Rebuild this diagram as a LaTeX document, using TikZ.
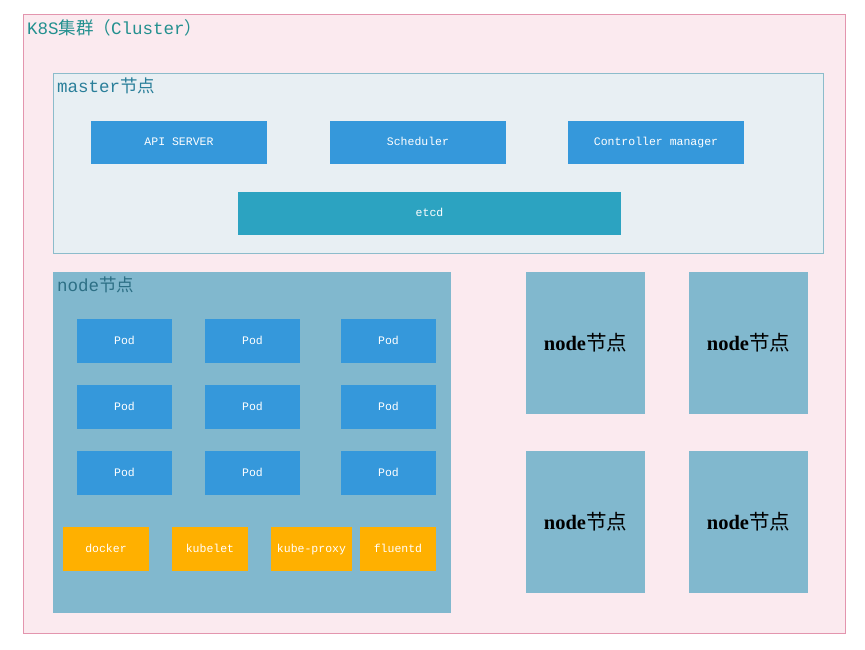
\documentclass[tikz,border=0pt]{standalone}
\usepackage{fontspec}
\setmainfont{Liberation Serif}
\newfontfamily\monof{Liberation Mono}
\newfontfamily\cjk{Noto Sans CJK SC}
\definecolor{outerfill}{HTML}{FBEAEF}
\definecolor{outerdraw}{HTML}{E395AE}
\definecolor{masterfill}{HTML}{E8EFF3}
\definecolor{masterdraw}{HTML}{8CBCCB}
\definecolor{bluebox}{HTML}{3598DB}
\definecolor{etcdbox}{HTML}{2CA3C1}
\definecolor{nodefill}{HTML}{81B8CE}
\definecolor{orangebox}{HTML}{FFB000}
\definecolor{titlecol}{HTML}{23908F}
\definecolor{mastercol}{HTML}{2A7F9A}
\definecolor{nodecol}{HTML}{2C6F85}
\begin{document}
\begin{tikzpicture}[x=1pt,y=-1pt,
  lbl/.style={anchor=north west, inner sep=0pt, font=\fontsize{17.5}{19}\selectfont},
  bx/.style={inner sep=0pt, outer sep=0pt, text=white, text height=8pt, text depth=2pt, font=\monof\fontsize{11.5}{13}\selectfont},
  blue/.style={bx, fill=bluebox, minimum width=176pt, minimum height=43pt},
  pod/.style={bx, fill=bluebox, minimum width=95pt, minimum height=44pt},
  orng/.style={bx, fill=orangebox, minimum height=44pt},
  rnode/.style={inner sep=0pt, fill=nodefill, minimum width=119pt, minimum height=142pt, font=\bfseries\fontsize{20.5}{22}\selectfont}]
\useasboundingbox (0,0) rectangle (865,650);
% cluster
\node[draw=outerdraw, fill=outerfill, line width=0.8pt, minimum width=822pt, minimum height=619pt, inner sep=0pt, anchor=north west] (cluster) at (23,14) {};
\node[lbl, text=titlecol] (ctitle) at (27,19) {\monof K8S\cjk 集群（\monof Cluster\cjk ）};
% master
\node[draw=masterdraw, fill=masterfill, line width=0.8pt, minimum width=770pt, minimum height=180pt, inner sep=0pt, anchor=north west] (master) at (53,73) {};
\node[lbl, text=mastercol] (mtitle) at (57,78) {\monof master\cjk 节点};
\node[blue] (api) at (179,142.5) {API SERVER};
\node[blue] (sched) at (418,142.5) {Scheduler};
\node[blue] (ctrl) at (656,142.5) {Controller manager};
\node[bx, fill=etcdbox, minimum width=383pt, minimum height=43pt] (etcd) at (429.5,213.5) {etcd};
% node
\node[fill=nodefill, minimum width=398pt, minimum height=341pt, inner sep=0pt, anchor=north west] (node) at (53,272) {};
\node[lbl, text=nodecol] (ntitle) at (57,277) {\monof node\cjk 节点};
\foreach \c/\x in {1/124.5,2/252.5,3/388.5}{
  \foreach \r/\y in {1/341,2/407,3/473}{
    \node[pod] (p\r\c) at (\x,\y) {Pod};
  }
}
\node[orng, minimum width=86pt] (docker) at (106,549) {docker};
\node[orng, minimum width=76pt] (kubelet) at (210,549) {kubelet};
\node[orng, minimum width=81pt] (kproxy) at (311.5,549) {kube-proxy};
\node[orng, minimum width=76pt] (fluentd) at (398,549) {fluentd};
% other nodes
\node[rnode] (n2) at (585.5,343) {node{\cjk\mdseries 节点}};
\node[rnode] (n3) at (748.5,343) {node{\cjk\mdseries 节点}};
\node[rnode] (n4) at (585.5,522) {node{\cjk\mdseries 节点}};
\node[rnode] (n5) at (748.5,522) {node{\cjk\mdseries 节点}};
\end{tikzpicture}
\end{document}
